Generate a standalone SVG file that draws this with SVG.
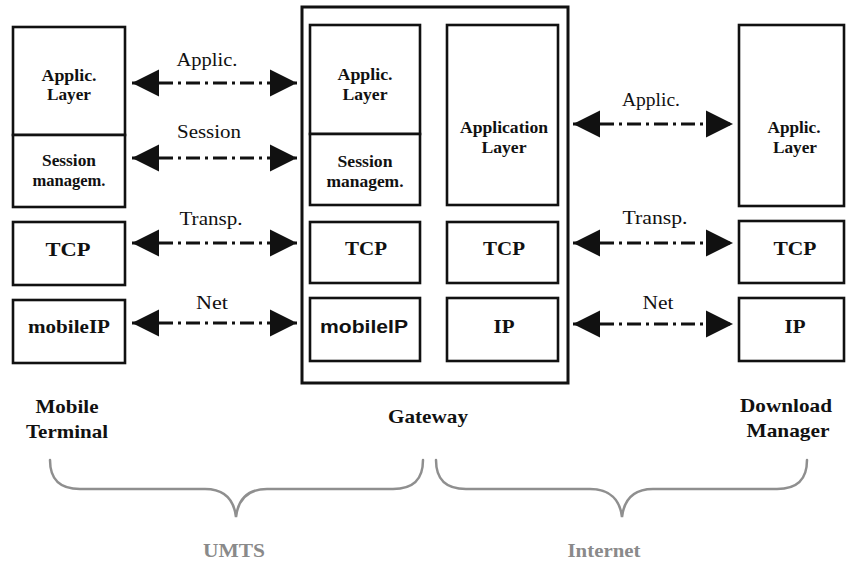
<svg xmlns="http://www.w3.org/2000/svg" width="846" height="564" viewBox="0 0 846 564">
<defs>
<style>
.box{fill:#fff;stroke:#111;stroke-width:2.6}
.outer{fill:none;stroke:#111;stroke-width:3}
.bt{font-family:"Liberation Serif","Times New Roman",serif;font-weight:bold;fill:#111;text-anchor:middle}
.bs{font-family:"Liberation Sans",Arial,sans-serif;font-weight:bold;fill:#111;text-anchor:middle}
.lt{font-family:"Liberation Serif","Times New Roman",serif;fill:#111;text-anchor:middle;font-size:18px}
.gt{font-family:"Liberation Serif","Times New Roman",serif;font-weight:bold;fill:#8a8a8a;text-anchor:middle;font-size:19px}
.arr{stroke:#111;stroke-width:3;stroke-dasharray:14 5 3 5;fill:none;marker-start:url(#ah);marker-end:url(#ah)}
.brace{fill:none;stroke:#8f8f8f;stroke-width:2.5;stroke-linecap:round}
</style>
<marker id="ah" markerUnits="userSpaceOnUse" markerWidth="28" markerHeight="28" refX="27" refY="13.5" orient="auto-start-reverse" viewBox="0 0 28 27">
<path d="M0,0 L27,13.5 L0,27 z" fill="#111"/>
</marker>
</defs>
<rect width="846" height="564" fill="#fff"/>

<g id="gateway">
<rect class="outer" x="302" y="7" width="266" height="376"/>
</g>

<g id="mt-app">
<rect class="box" x="13" y="27" width="112" height="108"/>
<text class="bt" x="69" y="81" font-size="16" textLength="55" lengthAdjust="spacingAndGlyphs">Applic.</text>
<text class="bt" x="69" y="100" font-size="16" textLength="44" lengthAdjust="spacingAndGlyphs">Layer</text>
</g>
<g id="mt-session">
<rect class="box" x="13" y="135" width="112" height="72"/>
<text class="bt" x="69" y="166" font-size="16" textLength="54" lengthAdjust="spacingAndGlyphs">Session</text>
<text class="bt" x="69" y="186" font-size="16" textLength="73" lengthAdjust="spacingAndGlyphs">managem.</text>
</g>
<g id="mt-tcp">
<rect class="box" x="13" y="222" width="112" height="63"/>
<text class="bt" x="68" y="256" font-size="19" textLength="45" lengthAdjust="spacingAndGlyphs">TCP</text>
</g>
<g id="mt-ip">
<rect class="box" x="13" y="300" width="112" height="63"/>
<text class="bt" x="69" y="333" font-size="18" textLength="82" lengthAdjust="spacingAndGlyphs">mobileIP</text>
</g>

<g id="gw-app">
<rect class="box" x="310" y="25" width="110" height="109"/>
<text class="bt" x="365" y="80" font-size="16" textLength="55" lengthAdjust="spacingAndGlyphs">Applic.</text>
<text class="bt" x="365" y="100" font-size="16" textLength="45" lengthAdjust="spacingAndGlyphs">Layer</text>
</g>
<g id="gw-session">
<rect class="box" x="310" y="134" width="110" height="71"/>
<text class="bt" x="365" y="167" font-size="16" textLength="55" lengthAdjust="spacingAndGlyphs">Session</text>
<text class="bt" x="365" y="187" font-size="16" textLength="77" lengthAdjust="spacingAndGlyphs">managem.</text>
</g>
<g id="gw-tcp1">
<rect class="box" x="310" y="222" width="110" height="61"/>
<text class="bt" x="366" y="255" font-size="19" textLength="42" lengthAdjust="spacingAndGlyphs">TCP</text>
</g>
<g id="gw-ip1">
<rect class="box" x="310" y="298" width="110" height="63"/>
<text class="bs" x="364" y="333" font-size="18" textLength="88" lengthAdjust="spacingAndGlyphs">mobileIP</text>
</g>
<g id="gw-app2">
<rect class="box" x="447" y="25" width="111" height="180"/>
<text class="bt" x="504" y="133" font-size="16" textLength="88" lengthAdjust="spacingAndGlyphs">Application</text>
<text class="bt" x="504" y="153" font-size="16" textLength="45" lengthAdjust="spacingAndGlyphs">Layer</text>
</g>
<g id="gw-tcp2">
<rect class="box" x="447" y="222" width="111" height="61"/>
<text class="bt" x="504" y="255" font-size="19" textLength="42" lengthAdjust="spacingAndGlyphs">TCP</text>
</g>
<g id="gw-ip2">
<rect class="box" x="447" y="298" width="111" height="63"/>
<text class="bt" x="504" y="333" font-size="19" textLength="21" lengthAdjust="spacingAndGlyphs">IP</text>
</g>

<g id="dm-app">
<rect class="box" x="739" y="25" width="105" height="181"/>
<text class="bt" x="794" y="133" font-size="16" textLength="53" lengthAdjust="spacingAndGlyphs">Applic.</text>
<text class="bt" x="795" y="153" font-size="16" textLength="44" lengthAdjust="spacingAndGlyphs">Layer</text>
</g>
<g id="dm-tcp">
<rect class="box" x="739" y="221" width="105" height="62"/>
<text class="bt" x="795" y="255" font-size="19" textLength="43" lengthAdjust="spacingAndGlyphs">TCP</text>
</g>
<g id="dm-ip">
<rect class="box" x="739" y="298" width="105" height="63"/>
<text class="bt" x="795" y="333" font-size="19" textLength="21" lengthAdjust="spacingAndGlyphs">IP</text>
</g>

<g id="connectors">
<line class="arr" x1="132" y1="83" x2="297" y2="83"/>
<line class="arr" x1="132" y1="158" x2="297" y2="158"/>
<line class="arr" x1="132" y1="243" x2="297" y2="243"/>
<line class="arr" x1="132" y1="323" x2="297" y2="323"/>
<line class="arr" x1="573" y1="124" x2="733" y2="124"/>
<line class="arr" x1="573" y1="243" x2="733" y2="243"/>
<line class="arr" x1="573" y1="324" x2="733" y2="324"/>
</g>

<g id="labels">
<text class="lt" x="207" y="66" textLength="61" lengthAdjust="spacingAndGlyphs">Applic.</text>
<text class="lt" x="209" y="138" textLength="64" lengthAdjust="spacingAndGlyphs">Session</text>
<text class="lt" x="211" y="225" textLength="63" lengthAdjust="spacingAndGlyphs">Transp.</text>
<text class="lt" x="212" y="309" textLength="32" lengthAdjust="spacingAndGlyphs">Net</text>
<text class="lt" x="651" y="106" textLength="58" lengthAdjust="spacingAndGlyphs">Applic.</text>
<text class="lt" x="655" y="224" textLength="65" lengthAdjust="spacingAndGlyphs">Transp.</text>
<text class="lt" x="658" y="309" textLength="31" lengthAdjust="spacingAndGlyphs">Net</text>

<text class="bt" x="67" y="413" font-size="19" textLength="63" lengthAdjust="spacingAndGlyphs">Mobile</text>
<text class="bt" x="67" y="438" font-size="19" textLength="82" lengthAdjust="spacingAndGlyphs">Terminal</text>
<text class="bt" x="428" y="423" font-size="19" textLength="80" lengthAdjust="spacingAndGlyphs">Gateway</text>
<text class="bt" x="786" y="412" font-size="19" textLength="92" lengthAdjust="spacingAndGlyphs">Download</text>
<text class="bt" x="788" y="437" font-size="19" textLength="83" lengthAdjust="spacingAndGlyphs">Manager</text>
<text class="gt" x="234" y="557" textLength="62" lengthAdjust="spacingAndGlyphs">UMTS</text>
<text class="gt" x="604" y="557" textLength="73" lengthAdjust="spacingAndGlyphs">Internet</text>
</g>

<g id="braces">
<path class="brace" d="M50,460 C50,480 60,489 80,489 L205,489 C225,489 234,500 236,517 C238,500 247,489 267,489 L393,489 C413,489 423,480 423,460"/>
<path class="brace" d="M436,460 C436,480 446,489 466,489 L590,489 C610,489 620,500 622,517 C624,500 633,489 653,489 L777,489 C797,489 807,480 807,460"/>
</g>
</svg>
